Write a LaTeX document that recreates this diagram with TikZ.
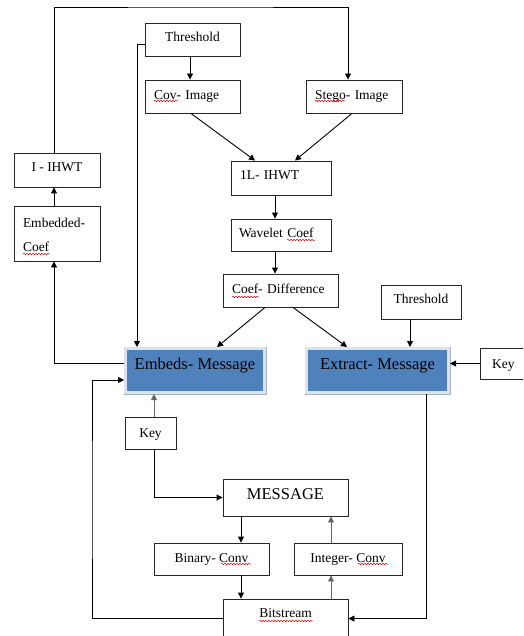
\documentclass[tikz,border=0pt]{standalone}
\usepackage{fontspec}
\setmainfont{Liberation Serif}
\usetikzlibrary{arrows.meta,decorations.pathmorphing}
\definecolor{boxblue}{HTML}{4F81BD}
\definecolor{boxrim}{HTML}{DCE3EC}
\definecolor{rimshade}{HTML}{A9B3BF}
\begin{document}
\begin{tikzpicture}[x=1pt,y=-1pt,
  box/.style={rectangle, draw=black!85, line width=0.9pt, inner sep=0pt,
    font=\fontsize{13.5}{16.5}\selectfont, text height=10pt, text depth=5pt},
  lbox/.style={box, align=left, inner xsep=9pt},
  bluebox/.style={rectangle, fill=boxblue, draw=boxrim, line width=3pt, inner sep=0pt,
    font=\fontsize{16.5}{19}\selectfont, text height=12pt, text depth=14.2pt},
  rimline/.style={draw=rimshade, line width=1pt},
  conn/.style={draw=black, line width=0.9pt, -{Triangle[length=6pt,width=6pt]}},
  gconn/.style={conn, draw=black!60},
  spell/.style={draw=red!90!black, line width=0.5pt, decorate,
    decoration={snake, amplitude=0.7pt, segment length=3pt}}]
\useasboundingbox (0,0) rectangle (523,636);
\clip (0,0) rectangle (523,636);

% nodes
\node[box, minimum width=95pt, minimum height=33pt, text depth=6pt] (thr1) at (192.5,39.5) {Threshold};
\node[lbox, text width=77pt, minimum height=33pt, text depth=4pt] (cov) at (192.5,96.5) {Cov- Image};
\node[lbox, text width=78pt, minimum height=33pt, text depth=4pt] (stego) at (354,96.5) {Stego- Image};
\node[lbox, text width=82pt, minimum height=34pt, text depth=7pt] (ihwt) at (281,178) {1L- IHWT};
\node[box, minimum width=86pt, minimum height=34pt, text depth=7pt] (iihwt) at (57,170) {I - IHWT};
\node[lbox, text width=68pt, minimum height=55pt, text height=, text depth=] (embcoef) at (57,233.5)
  {\rule{0pt}{12.5pt}Embedded-\\[8pt]Coef};
\node[lbox, inner xsep=8pt, text width=84pt, minimum height=32pt] (wavelet) at (281,235) {Wavelet Coef};
\node[lbox, text width=97pt, minimum height=33pt, text depth=4pt] (coefdiff) at (280.5,290.5) {Coef- Difference};
\node[box, minimum width=80pt, minimum height=34pt, text depth=7pt] (thr2) at (421,302) {Threshold};
\node[bluebox, minimum width=139pt, minimum height=44pt] (embeds) at (195,370.5) {Embeds- Message};
\node[bluebox, minimum width=142pt, minimum height=44pt] (extract) at (377.5,370.5) {Extract- Message};
\node[lbox, inner xsep=12pt, text width=41pt, minimum height=31pt, text depth=1pt] (keyR) at (512.5,363.5) {Key};
\node[box, minimum width=51pt, minimum height=32pt, text depth=2pt] (key) at (150.5,433) {Key};
\node[box, minimum width=125pt, minimum height=37pt, font=\fontsize{16.5}{19}\selectfont,
  text height=12pt, text depth=8.2pt] (message) at (285.5,497.5) {MESSAGE};
\node[box, minimum width=115pt, minimum height=32pt, text depth=4pt] (binary) at (211.5,559) {Binary- Conv};
\node[box, minimum width=108pt, minimum height=32pt, text depth=4pt] (integer) at (348,559) {Integer- Conv};
\node[box, minimum width=125pt, minimum height=51pt, text depth=24pt] (bitstream) at (285.5,624.5) {Bitstream};

\path[rimline] (embeds.north east) -- (embeds.south east) -- (embeds.south west);
\path[rimline] (extract.north east) -- (extract.south east) -- (extract.south west);

% spell-check underlines
\path[spell] (154,101) -- (178,101);
\path[spell] (315,101) -- (345,101);
\path[spell] (23,254) -- (50,254);
\path[spell] (287,240) -- (315,240);
\path[spell] (232,297) -- (259,297);
\path[spell] (221,564) -- (251,564);
\path[spell] (358,564) -- (388,564);
\path[spell] (259,621) -- (313,621);

\coordinate (ttop) at (200,7);
\coordinate (lft) at (92,500);

% connectors
\draw[conn] ([xshift=-3pt]iihwt.north) |- (ttop) -| ([xshift=-6pt]stego.north);
\draw[conn] ([yshift=-4.5pt]thr1.west) -| ([xshift=13pt]embeds.north west);
\draw[conn] ([xshift=-2.5pt]thr1.south) -- ([xshift=-2.5pt]cov.north);
\draw[conn] ([xshift=-1.5pt]cov.south) -- ([xshift=-26pt]ihwt.north);
\draw[conn] ([xshift=-2pt]stego.south) -- ([xshift=14pt]ihwt.north);
\draw[conn] ([xshift=-6pt]ihwt.south) -- ([xshift=-6pt]wavelet.north);
\draw[conn] ([xshift=-6pt]wavelet.south) -- ([xshift=-5.5pt]coefdiff.north);
\draw[conn] ([xshift=-15.5pt]coefdiff.south) -- ([xshift=22pt]embeds.north);
\draw[conn] ([xshift=12.5pt]coefdiff.south) -- ([xshift=-30.5pt]extract.north);
\draw[conn] ([xshift=-11pt]thr2.south) -- ([xshift=32.5pt]extract.north);
\draw[conn] (keyR.west) -- (keyR.west -| extract.east);
\draw[conn] ([yshift=7.5pt]embeds.west) -| ([xshift=-3pt]embcoef.south);
\draw[conn] ([xshift=-3pt]embcoef.north) -- ([xshift=-3pt]iihwt.south);
\draw[conn] ([yshift=-20pt]bitstream.north west) -| (lft) |- ([yshift=-9.5pt]embeds.west);
\draw[gconn] ([xshift=3.5pt]key.north) -- ([xshift=3.5pt]key.north |- embeds.south);
\draw[conn] ([xshift=3.5pt]key.south) |- (message.west);
\draw[conn] ([xshift=-44.5pt]message.south) -- ([xshift=-44.5pt]message.south |- binary.north);
\draw[gconn] ([xshift=-17pt]integer.north) -- ([xshift=-17pt]integer.north |- message.south);
\draw[conn] ([xshift=29.5pt]binary.south) -- ([xshift=29.5pt]binary.south |- bitstream.north);
\draw[gconn] ([xshift=-17pt]integer.south |- bitstream.north) -- ([xshift=-17pt]integer.south);
\draw[conn] ([xshift=48.5pt]extract.south) |- ([yshift=-20pt]bitstream.north east);
\end{tikzpicture}
\end{document}
